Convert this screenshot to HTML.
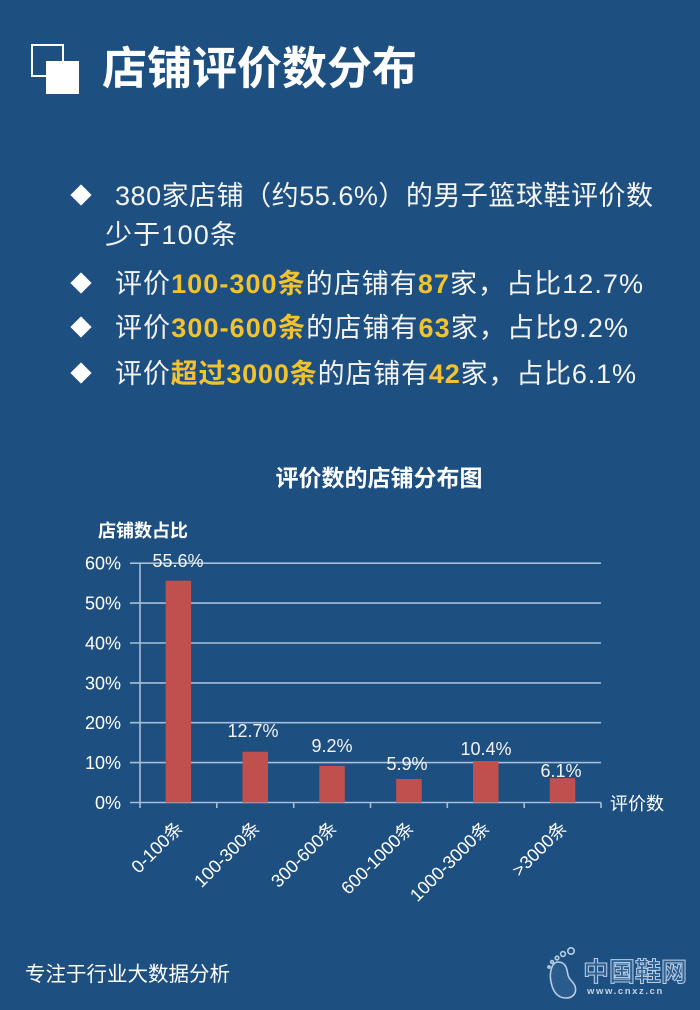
<!DOCTYPE html>
<html>
<head>
<meta charset="utf-8">
<style>
  html,body{margin:0;padding:0;background:#1d4f80;}
  svg{display:block;}
  .t{font-family:"Liberation Sans","Noto Sans CJK SC",sans-serif;}
</style>
</head>
<body>
<svg width="700" height="1010" viewBox="0 0 700 1010" xmlns="http://www.w3.org/2000/svg">
  <rect x="0" y="0" width="700" height="1010" fill="#1d4f80"/>

  <!-- header icon -->
  <rect x="32" y="45" width="31" height="31" fill="none" stroke="#ffffff" stroke-width="2"/>
  <rect x="46" y="61" width="33" height="33" fill="#ffffff"/>
  <!-- title -->
  <text class="t" x="102" y="84" font-size="45" font-weight="bold" fill="#ffffff" textLength="315" lengthAdjust="spacing">店铺评价数分布</text>

  <!-- bullets -->
  <g fill="#ffffff">
    <rect x="73.5" y="187.5" width="15" height="15" transform="rotate(45 81 195)"/>
    <rect x="73.5" y="275.5" width="15" height="15" transform="rotate(45 81 283)"/>
    <rect x="73.5" y="319.5" width="15" height="15" transform="rotate(45 81 327)"/>
    <rect x="73.5" y="365.5" width="15" height="15" transform="rotate(45 81 373)"/>
  </g>
  <g class="t" font-size="27" fill="#f4f4f4">
    <text x="115" y="205" textLength="538" lengthAdjust="spacing">380家店铺（约55.6%）的男子篮球鞋评价数</text>
    <text x="105" y="244" textLength="132" lengthAdjust="spacing">少于100条</text>
    <text x="115" y="293" textLength="528" lengthAdjust="spacing">评价<tspan fill="#f2c230" font-weight="bold">100-300条</tspan>的店铺有<tspan fill="#f2c230" font-weight="bold">87</tspan>家，占比12.7%</text>
    <text x="115" y="337" textLength="513" lengthAdjust="spacing">评价<tspan fill="#f2c230" font-weight="bold">300-600条</tspan>的店铺有<tspan fill="#f2c230" font-weight="bold">63</tspan>家，占比9.2%</text>
    <text x="115" y="383" textLength="521" lengthAdjust="spacing">评价<tspan fill="#f2c230" font-weight="bold">超过3000条</tspan>的店铺有<tspan fill="#f2c230" font-weight="bold">42</tspan>家，占比6.1%</text>
  </g>

  <!-- chart title -->
  <text class="t" x="379" y="486" font-size="23" font-weight="bold" fill="#ffffff" text-anchor="middle">评价数的店铺分布图</text>
  <text class="t" x="98" y="537" font-size="18" font-weight="bold" fill="#ffffff">店铺数占比</text>

  <!-- gridlines -->
  <g stroke="#a8bed6" stroke-width="1.6">
    <line x1="130" y1="563.2" x2="601" y2="563.2"/>
    <line x1="130" y1="603.1" x2="601" y2="603.1"/>
    <line x1="130" y1="643" x2="601" y2="643"/>
    <line x1="130" y1="682.9" x2="601" y2="682.9"/>
    <line x1="130" y1="722.7" x2="601" y2="722.7"/>
    <line x1="130" y1="762.6" x2="601" y2="762.6"/>
    <line x1="130" y1="802.5" x2="601" y2="802.5"/>
    <line x1="140" y1="563.2" x2="140" y2="808"/>
    <line x1="216.8" y1="802.5" x2="216.8" y2="808"/>
    <line x1="293.7" y1="802.5" x2="293.7" y2="808"/>
    <line x1="370.5" y1="802.5" x2="370.5" y2="808"/>
    <line x1="447.3" y1="802.5" x2="447.3" y2="808"/>
    <line x1="524.2" y1="802.5" x2="524.2" y2="808"/>
    <line x1="601" y1="802.5" x2="601" y2="808"/>
  </g>

  <!-- y tick labels -->
  <g class="t" font-size="18" fill="#ffffff" text-anchor="end">
    <text x="121" y="569.7">60%</text>
    <text x="121" y="609.6">50%</text>
    <text x="121" y="649.5">40%</text>
    <text x="121" y="689.4">30%</text>
    <text x="121" y="729.2">20%</text>
    <text x="121" y="769.1">10%</text>
    <text x="121" y="809">0%</text>
  </g>

  <!-- bars -->
  <g fill="#c0504d">
    <rect x="165.6" y="580.7" width="25.5" height="221.8"/>
    <rect x="242.5" y="751.8" width="25.5" height="50.7"/>
    <rect x="319.3" y="765.8" width="25.5" height="36.7"/>
    <rect x="396.2" y="779" width="25.5" height="23.5"/>
    <rect x="473" y="761" width="25.5" height="41.5"/>
    <rect x="549.8" y="778.2" width="25.5" height="24.3"/>
  </g>

  <!-- data labels -->
  <g class="t" font-size="18" fill="#f4f4f4" text-anchor="middle">
    <text x="178" y="567">55.6%</text>
    <text x="253" y="737">12.7%</text>
    <text x="332" y="752">9.2%</text>
    <text x="407" y="770">5.9%</text>
    <text x="486" y="755">10.4%</text>
    <text x="561" y="777">6.1%</text>
  </g>

  <!-- x axis title -->
  <text class="t" x="610" y="810" font-size="18" fill="#ffffff">评价数</text>

  <!-- x tick labels -->
  <g class="t" font-size="18" fill="#ffffff" text-anchor="end">
    <text transform="translate(184 829) rotate(-45)">0-100条</text>
    <text transform="translate(261 829) rotate(-45)">100-300条</text>
    <text transform="translate(338 829) rotate(-45)">300-600条</text>
    <text transform="translate(415 829) rotate(-45)">600-1000条</text>
    <text transform="translate(491 829) rotate(-45)">1000-3000条</text>
    <text transform="translate(568 829) rotate(-45)">&gt;3000条</text>
  </g>

  <!-- footer -->
  <text class="t" x="25" y="981" font-size="20.5" fill="#ffffff">专注于行业大数据分析</text>

  <!-- logo -->
  <g fill="none" stroke="#b8cde4" stroke-width="1.6">
    <path d="M558 962 C552 962 549 972 551 982 C553 992 558 998 566 998 C574 998 577 992 575 986 C573 981 569 980 568 975 C567 969 566 962 558 962 Z" fill="#2a5b8d"/>
    <circle cx="571" cy="951" r="3.2"/>
    <circle cx="563" cy="954" r="2.4"/>
    <circle cx="557" cy="958" r="1.8"/>
    <circle cx="552" cy="962" r="1.4"/>
    <circle cx="549" cy="967" r="1.1"/>
  </g>
  <text class="t" x="583" y="981" font-size="26" font-weight="bold" fill="#2f6193" stroke="#b8cde4" stroke-width="1">中国鞋网</text>
  <text class="t" x="587" y="994" font-size="9.5" font-weight="bold" fill="#c2d5ea" letter-spacing="1.6">www.cnxz.cn</text>
</svg>
</body>
</html>
